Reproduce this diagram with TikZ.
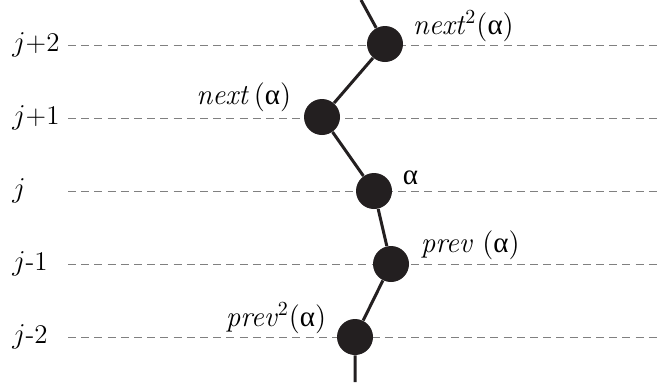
\documentclass[tikz,border=0pt]{standalone}
\usepackage{fontspec}
\usepackage{tikz}
\usetikzlibrary{positioning}
\newfontfamily\greekfont{Liberation Serif}
\newcommand{\alphaup}{{\greekfont α}}
\definecolor{dotfill}{HTML}{231F20}
\definecolor{levelgray}{HTML}{808080}

\begin{document}
\begin{tikzpicture}[x=0.5pt, y=-0.5pt,
  level/.style={anchor=west, inner sep=0pt, font=\fontsize{13.5}{16}\selectfont},
  lab/.style={inner sep=0pt, font=\fontsize{14.5}{17}\selectfont},
  guide/.style={draw=levelgray, line width=0.5pt, dash pattern=on 4pt off 2.6pt},
  dot/.style={circle, fill=dotfill, minimum size=18pt, inner sep=0pt},
  chain/.style={draw=dotfill, line width=1.5pt}]
\useasboundingbox (0,0) rectangle (659,388);
% level labels and guide lines
\node[level] (l2) at (12,45) {$j$+2};
\node[level] (l1) at (12,118) {$j$+1};
\node[level] (l0) at (12,191) {$j$};
\node[level] (lm1) at (12,264) {$j$-1};
\node[level] (lm2) at (12,337) {$j$-2};
\coordinate (s2) at (68,45);   \coordinate (e2) at (659,45);
\coordinate (s1) at (68,118);  \coordinate (e1) at (659,118);
\coordinate (s0) at (68,191);  \coordinate (e0) at (659,191);
\coordinate (sm1) at (68,264); \coordinate (em1) at (659,264);
\coordinate (sm2) at (68,337); \coordinate (em2) at (659,337);
\draw[guide] (s2) -- (e2);
\draw[guide] (s1) -- (e1);
\draw[guide] (s0) -- (e0);
\draw[guide] (sm1) -- (em1);
\draw[guide] (sm2) -- (em2);
% the chain of elements
\node[dot] (n2) at (385,44) {};
\node[dot] (n1) at (322,117) {};
\node[dot] (n0) at (374,191) {};
\node[dot] (nm1) at (391,264) {};
\node[dot] (nm2) at (355,337) {};
\coordinate (top) at (361,0);
\coordinate (bot) at (355,382);
\draw[chain] (top) -- (n2) -- (n1) -- (n0) -- (nm1) -- (nm2) -- (bot);
% element labels
\node[lab, anchor=west] (t2) at ([xshift=4.5pt, yshift=9pt]n2.east) {\textit{next}$^2$(\alphaup)};
\node[lab, anchor=east] (t1) at ([xshift=-6pt, yshift=10pt]n1.west) {\textit{next}\,(\alphaup)};
\node[lab, anchor=west] (t0) at ([xshift=5pt, yshift=6.5pt]n0.east) {\alphaup};
\node[lab, anchor=west] (tm1) at ([xshift=5.5pt, yshift=9.5pt]nm1.east) {\textit{prev} (\alphaup)};
\node[lab, anchor=east] (tm2) at ([xshift=-5pt, yshift=9.5pt]nm2.west) {\textit{prev}$^2$(\alphaup)};
\end{tikzpicture}
\end{document}
